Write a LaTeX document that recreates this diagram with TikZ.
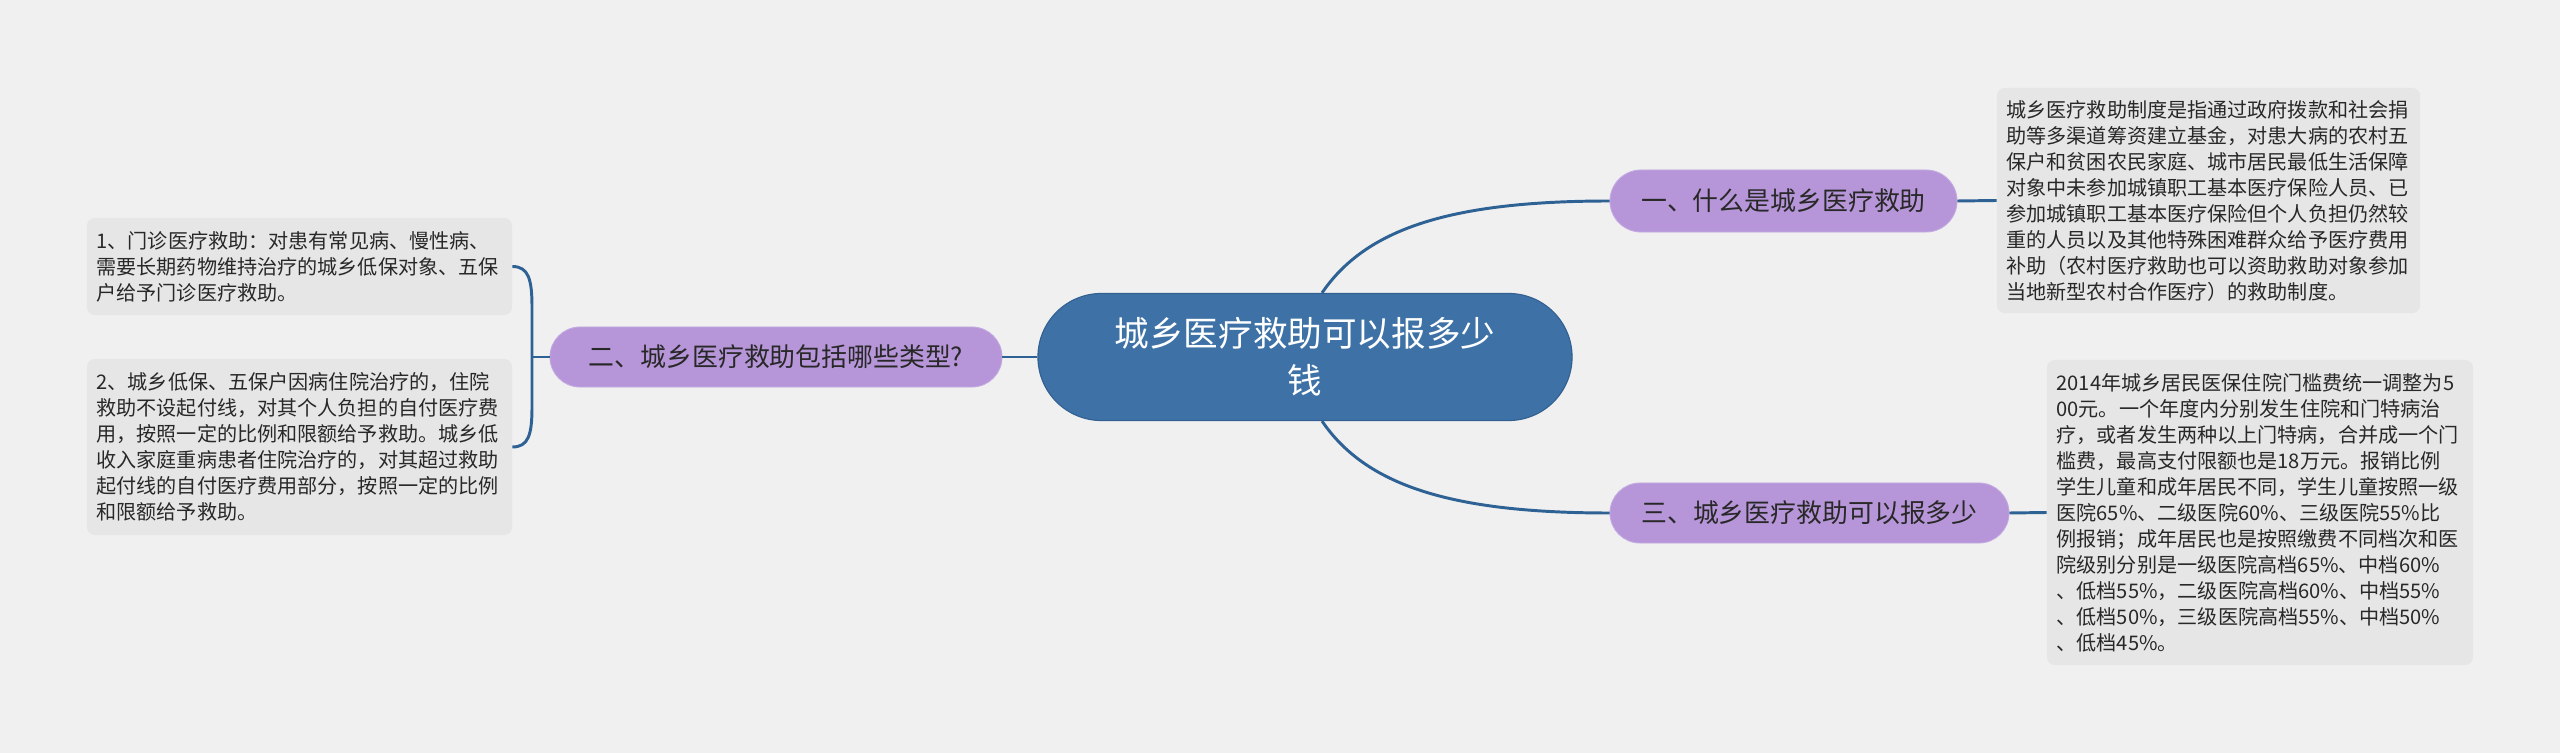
\documentclass[tikz,border=0pt]{standalone}
\usepackage{fontspec}
\setmainfont{Noto Sans CJK SC}
\usepackage{tikz}
\usetikzlibrary{shapes.misc,calc}
\definecolor{bgcol}{RGB}{240,240,240}
\definecolor{leafgray}{RGB}{230,230,230}
\definecolor{topicblue}{RGB}{62,114,166}
\definecolor{topicedge}{RGB}{50,96,146}
\definecolor{branchpurple}{RGB}{182,150,216}
\definecolor{branchedge}{RGB}{196,170,226}
\definecolor{linkblue}{RGB}{47,98,148}
\definecolor{textdark}{RGB}{40,40,40}

\begin{document}
\begin{tikzpicture}[x=0.025cm,y=-0.025cm,
  topic/.style={rounded rectangle,fill=topicblue,draw=topicedge,line width=0.8pt,text=white,align=center,inner xsep=0pt,font=\fontsize{24.6}{33.5}\selectfont},
  branch/.style={rounded rectangle,fill=branchpurple,draw=branchedge,line width=0.6pt,text=textdark,inner xsep=0pt,minimum height=1.5cm,font=\fontsize{18.4}{22}\selectfont},
  leaf/.style={rectangle,rounded corners=0.2cm,fill=leafgray,text=textdark,align=left,inner xsep=0.24cm,font=\fontsize{14.3}{18.5}\selectfont},
  link/.style={draw=linkblue,line width=2.1pt}]
\fill[bgcol] (0,0) rectangle (2560,753);
\useasboundingbox (0,0) rectangle (2560,753);

\node[topic,minimum width=13.35cm,minimum height=3.175cm] (topic) at (1305,357) {城乡医疗救助可以报多少\\钱};
\node[branch,minimum width=8.675cm,minimum height=1.55cm] (what) at (1783.5,201) {一、什么是城乡医疗救助};
\node[branch,minimum width=11.3cm] (types) at (776,357) {二、城乡医疗救助包括哪些类型?};
\node[branch,minimum width=9.975cm] (howmuch) at (1809.5,513) {三、城乡医疗救助可以报多少};

\node[leaf,text width=10.1cm,minimum height=5.625cm] (whatnote) at (2208.5,200.5) {城乡医疗救助制度是指通过政府拨款和社会捐\\助等多渠道筹资建立基金，对患大病的农村五\\保户和贫困农民家庭、城市居民最低生活保障\\对象中未参加城镇职工基本医疗保险人员、已\\参加城镇职工基本医疗保险但个人负担仍然较\\重的人员以及其他特殊困难群众给予医疗费用\\补助（农村医疗救助也可以资助救助对象参加\\当地新型农村合作医疗）的救助制度。};
\node[leaf,text width=10.17cm,minimum height=7.625cm] (ratenote) at (2260,512.5) {2014年城乡居民医保住院门槛费统一调整为5\\00元。一个年度内分别发生住院和门特病治\\疗，或者发生两种以上门特病，合并成一个门\\槛费，最高支付限额也是18万元。报销比例\\学生儿童和成年居民不同，学生儿童按照一级\\医院65\%、二级医院60\%、三级医院55\%比\\例报销；成年居民也是按照缴费不同档次和医\\院级别分别是一级医院高档65\%、中档60\%\\、低档55\%，二级医院高档60\%、中档55\%\\、低档50\%，三级医院高档55\%、中档50\%\\、低档45\%。};
\node[leaf,text width=10.145cm,minimum height=2.425cm] (outpat) at (299.5,266.5) {1、门诊医疗救助：对患有常见病、慢性病、\\需要长期药物维持治疗的城乡低保对象、五保\\户给予门诊医疗救助。};
\node[leaf,text width=10.145cm,minimum height=4.4cm] (inpat) at (299.5,447) {2、城乡低保、五保户因病住院治疗的，住院\\救助不设起付线，对其个人负担的自付医疗费\\用，按照一定的比例和限额给予救助。城乡低\\收入家庭重病患者住院治疗的，对其超过救助\\起付线的自付医疗费用部分，按照一定的比例\\和限额给予救助。};

\draw[link] ([xshift=0.425cm]topic.north) .. controls +(43,-63) and +(-162,0) .. (what.west);
\draw[link] ([xshift=0.425cm]topic.south) .. controls +(43,63) and +(-162,0) .. (howmuch.west);
\draw[link] (topic.west) -- (types.east);
\draw[link] (what.east) -- (whatnote.west);
\draw[link] (howmuch.east) -- (ratenote.west);
\coordinate (fork) at (532,357);
\draw[link] (types.west) -- (fork);
\draw[link] (outpat.east) .. controls +(16,0) and +(0,-28) .. ($(fork)+(0,-50)$) -- ($(fork)+(0,50)$) .. controls +(0,28) and +(16,0) .. (inpat.east);
\end{tikzpicture}
\end{document}
